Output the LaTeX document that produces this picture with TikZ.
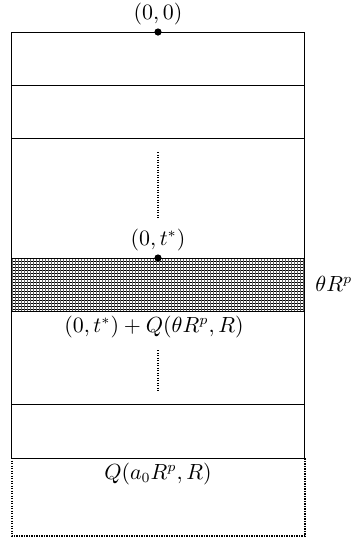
\documentclass[tikz,border=0pt]{standalone}
\begin{document}
\begin{tikzpicture}[x=0.5pt,y=-0.5pt,line width=0.5pt,
  dotline/.style={line width=0.65pt,dash pattern=on 0.65pt off 0.6pt},
  lbl/.style={inner sep=1pt,font=\fontsize{10.7pt}{13pt}\selectfont},
  pt/.style={fill=black,circle,inner sep=0pt,minimum size=3.6pt}]
\useasboundingbox (0,0) rectangle (350,538);
% shaded band
\begin{scope}
  \clip (12,258) rectangle (305,311);
  \foreach \y in {258,261,...,312} \draw[line width=0.5pt] (12,\y) -- (305,\y);
  \foreach \x in {12,15,...,305} \draw[line width=0.2pt,black!60] (\x,258) -- (\x,311);
\end{scope}
% solid frame and strip lines
\draw (12,458) -- (12,32) -- (305,32) -- (305,458);
\foreach \y in {85,138,258,311,404,458} \draw (12,\y) -- (305,\y);
% dotted bottom box
\draw[dotline] (12,458) -- (12,536) -- (305,536) -- (305,458);
% points
\node[pt] (p0) at (158,32) {};
\node[pt] (pt) at (158,258) {};
% vertical dotted ellipsis lines
\coordinate (d1a) at (158,152); \coordinate (d1b) at (158,218);
\coordinate (d2a) at (158,350); \coordinate (d2b) at (158,392);
\draw[dotline] (d1a) -- (d1b);
\draw[dotline] (d2a) -- (d2b);
% labels
\node[lbl] (l0) at (158,14) {$(0,0)$};
\node[lbl] (lt) at (158,240) {$(0,t^*)$};
\node[lbl,anchor=west] (lth) at (313,284) {$\theta R^p$};
\node[lbl] (lq1) at (154,327) {$(0,t^*)+Q(\theta R^p,R)$};
\node[lbl] (lq0) at (158,474) {$Q(a_0R^p,R)$};
\end{tikzpicture}
\end{document}
